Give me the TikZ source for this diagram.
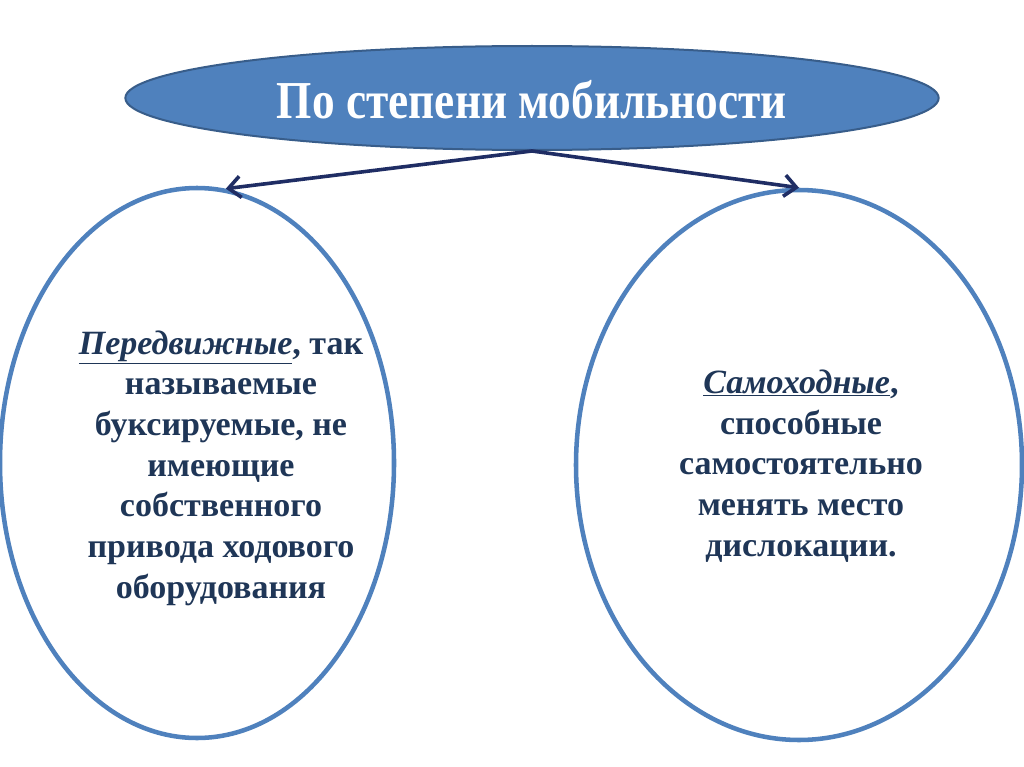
\documentclass[tikz,border=0pt]{standalone}
\usepackage{fontspec}
\setmainfont{Liberation Serif}
\usetikzlibrary{arrows.meta,shapes.geometric}

\definecolor{headblue}{HTML}{4F81BD}
\definecolor{headedge}{HTML}{385D8A}
\definecolor{ringblue}{HTML}{4F81BD}
\definecolor{arrownavy}{HTML}{1F2D64}
\definecolor{textnavy}{HTML}{1F3657}

\tikzset{
  headnode/.style={ellipse,draw=headedge,line width=1.5pt,fill=headblue,
    minimum width=610pt,minimum height=78pt,inner sep=0pt},
  ringnode/.style={ellipse,draw=ringblue,line width=3.4pt,fill=white,inner sep=0pt},
  bodytext/.style={align=center,text=textnavy,inner sep=0pt,
    font=\fontsize{25.5pt}{30.5pt}\selectfont\bfseries},
  link/.style={draw=arrownavy,line width=2.7pt,-{Straight Barb[length=9pt,width=16pt]}}
}

\begin{document}
\begin{tikzpicture}[x=0.75pt,y=-0.75pt,line join=round,line cap=round]

  \useasboundingbox (0,0) rectangle (1024,767);

  % ---- heading ----
  \node[headnode] (head) at (532,98) {};
  \node[text=white,font=\fontsize{40pt}{44pt}\selectfont\bfseries,xscale=0.85] (headtext) at (532,100) {По степени мобильности};

  % ---- two kinds ----
  \node[ringnode,minimum width=295.5pt,minimum height=412.5pt] (left) at (197,463) {};
  \node[ringnode,minimum width=334.5pt,minimum height=412.5pt] (right) at (799,465) {};

  \node[bodytext] (lefttext) at (221,468)
    {\underline{\itshape Передвижные}, так\\называемые\\буксируемые, не\\имеющие\\собственного\\привода ходового\\оборудования};
  \node[bodytext] (righttext) at (801,466)
    {\underline{\itshape Самоходные},\\способные\\самостоятельно\\менять место\\дислокации.};

  % ---- arrows ----
  \draw[link] (head.south) -- (left.84);
  \draw[link] (head.south) -- (right.north);

\end{tikzpicture}
\end{document}
